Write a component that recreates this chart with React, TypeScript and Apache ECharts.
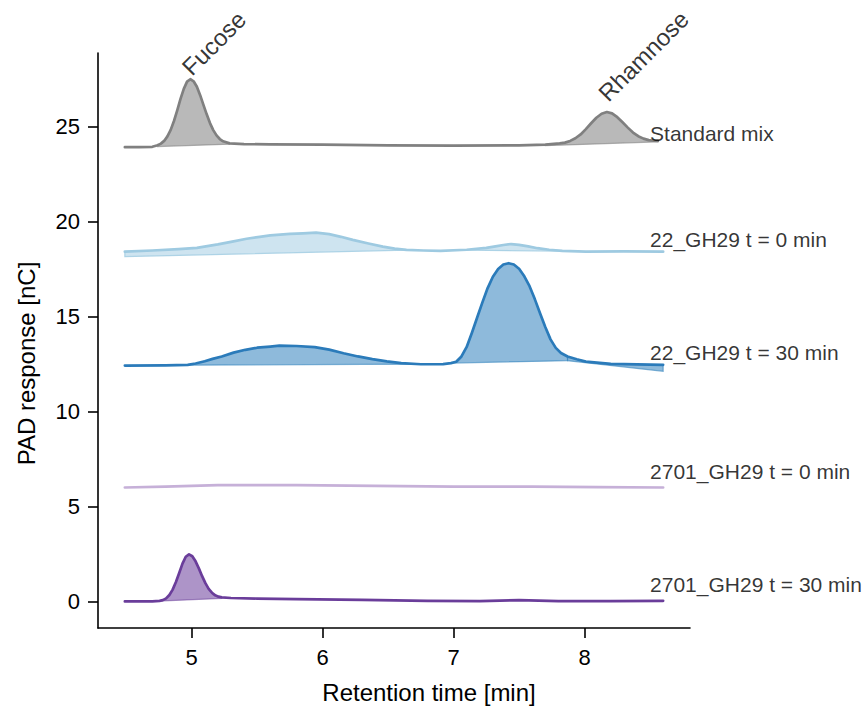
import React, { useEffect, useRef } from "react";
import * as echarts from "echarts";

// ---------- data ----------
const xTicks = [5, 6, 7, 8];
const yTicks = [0, 5, 10, 15, 20, 25];

// Standard mix
const stdX = [4.49, 4.6, 4.7, 4.74, 4.765, 4.79, 4.815, 4.84, 4.865, 4.89, 4.915, 4.94, 4.965, 4.99, 5.015, 5.04, 5.065, 5.09, 5.115, 5.14, 5.165, 5.19, 5.215, 5.24, 5.29, 5.4, 5.6, 6.0, 6.5, 7.0, 7.5, 7.7, 7.81, 7.85, 7.89, 7.93, 7.97, 8.01, 8.05, 8.09, 8.13, 8.17, 8.21, 8.25, 8.29, 8.33, 8.37, 8.41, 8.45, 8.49, 8.53, 8.56];
const stdY = [23.92, 23.92, 23.94, 24.02, 24.11, 24.25, 24.49, 24.83, 25.3, 25.86, 26.46, 26.99, 27.37, 27.5, 27.39, 27.1, 26.66, 26.15, 25.65, 25.19, 24.82, 24.54, 24.35, 24.23, 24.12, 24.08, 24.07, 24.05, 24.02, 24.0, 24.02, 24.05, 24.12, 24.16, 24.25, 24.39, 24.59, 24.87, 25.18, 25.47, 25.68, 25.77, 25.7, 25.5, 25.23, 24.95, 24.69, 24.5, 24.37, 24.29, 24.26, 24.25];
const stdFills = [
  [4.74, 23.95, 5.29, 24.08],
  [7.7, 24.0, 8.56, 24.2],
];

// 22_GH29 t = 0 min
const a0X = [4.49, 4.7, 4.9, 5.04, 5.2, 5.31, 5.42, 5.52, 5.6, 5.75, 5.85, 5.95, 6.05, 6.14, 6.23, 6.35, 6.46, 6.55, 6.64, 6.77, 6.9, 7.1, 7.25, 7.32, 7.38, 7.44, 7.5, 7.57, 7.64, 7.73, 7.83, 8.01, 8.3, 8.6];
const a0Y = [18.42, 18.48, 18.55, 18.62, 18.8, 18.95, 19.1, 19.2, 19.28, 19.35, 19.38, 19.42, 19.34, 19.2, 19.04, 18.85, 18.68, 18.58, 18.51, 18.48, 18.46, 18.52, 18.62, 18.7, 18.77, 18.82, 18.78, 18.7, 18.6, 18.52, 18.46, 18.42, 18.43, 18.42];
const a0Fills = [
  [4.49, 18.16, 6.64, 18.5],
  [7.1, 18.5, 7.83, 18.44],
];

// 22_GH29 t = 30 min
const a30X = [4.49, 4.8, 4.97, 5.03, 5.1, 5.16, 5.23, 5.32, 5.41, 5.5, 5.6, 5.67, 5.8, 5.94, 6.05, 6.16, 6.27, 6.38, 6.49, 6.6, 6.75, 6.92, 6.98, 7.02, 7.06, 7.1, 7.14, 7.18, 7.22, 7.26, 7.3, 7.34, 7.38, 7.42, 7.46, 7.5, 7.54, 7.58, 7.62, 7.66, 7.7, 7.74, 7.78, 7.82, 7.87, 7.94, 8.01, 8.2, 8.4, 8.6];
const a30Y = [12.42, 12.43, 12.46, 12.53, 12.65, 12.77, 12.9, 13.1, 13.25, 13.36, 13.42, 13.47, 13.45, 13.39, 13.26, 13.07, 12.9, 12.76, 12.64, 12.55, 12.49, 12.5, 12.55, 12.62, 12.9, 13.4, 14.15, 14.95, 15.75, 16.5, 17.1, 17.5, 17.74, 17.81, 17.74, 17.52, 17.12, 16.6, 15.92, 15.18, 14.45, 13.8, 13.35, 13.08, 12.9, 12.75, 12.63, 12.51, 12.48, 12.46];
const a30Fills = [
  [4.97, 12.44, 6.75, 12.5],
  [6.98, 12.55, 7.87, 12.68],
  [7.87, 12.68, 8.6, 12.12],
];

// 2701_GH29 t = 0 min
const b0X = [4.49, 4.8, 5.2, 5.8, 6.4, 7.0, 7.6, 8.1, 8.6];
const b0Y = [6.0, 6.05, 6.12, 6.12, 6.08, 6.05, 6.04, 6.02, 6.0];

// 2701_GH29 t = 30 min
const b30X = [4.49, 4.7, 4.755, 4.78, 4.805, 4.83, 4.855, 4.88, 4.905, 4.93, 4.955, 4.98, 5.005, 5.03, 5.055, 5.08, 5.105, 5.13, 5.155, 5.18, 5.205, 5.23, 5.3, 5.5, 5.8, 6.3, 6.8, 7.2, 7.5, 7.8, 8.2, 8.6];
const b30Y = [0.0, 0.0, 0.03, 0.07, 0.16, 0.34, 0.62, 1.02, 1.5, 1.99, 2.35, 2.48, 2.38, 2.11, 1.74, 1.33, 0.96, 0.66, 0.46, 0.32, 0.25, 0.21, 0.18, 0.15, 0.12, 0.08, 0.03, 0.02, 0.07, 0.02, 0.02, 0.03];
const b30Fills = [[4.7, 0.0, 5.23, 0.16]];

// trace labels
const labelNames = ["Standard mix", "22_GH29 t = 0 min", "22_GH29 t = 30 min", "2701_GH29 t = 0 min", "2701_GH29 t = 30 min"];
const labelX = [8.5, 8.5, 8.5, 8.5, 8.5];
const labelY = [24.66, 19.04, 13.09, 6.83, 0.88];

// peak annotations
const annNames = ["Fucose", "Rhamnose"];
const annX = [5.17, 8.45];
const annY = [29.4, 28.72];

const FONT = "'Liberation Sans', Arial, Helvetica, sans-serif";

function lineSeries(name: string, xs: number[], ys: number[], color: string) {
  return {
    name,
    type: "line",
    data: xs.map((x, i) => [x, ys[i]]),
    showSymbol: false,
    symbol: "none",
    z: 5,
    silent: true,
    lineStyle: { color, width: 2.7, cap: "round", join: "round" },
  };
}

function fillSeries(xs: number[], ys: number[], fills: number[][], fill: string, edge: string) {
  return {
    type: "custom",
    data: fills,
    z: 2,
    silent: true,
    encode: { x: [0, 2], y: [1, 3] },
    renderItem: (params: any, api: any) => {
      const [x0, b0, x1, b1] = fills[params.dataIndex];
      const pts: number[][] = [];
      for (let i = 0; i < xs.length; i++) {
        if (xs[i] >= x0 - 1e-9 && xs[i] <= x1 + 1e-9) pts.push(api.coord([xs[i], ys[i]]));
      }
      pts.push(api.coord([x1, b1]));
      pts.push(api.coord([x0, b0]));
      return {
        type: "polygon",
        shape: { points: pts },
        style: { fill, stroke: edge, lineWidth: 1.2 },
      };
    },
  };
}

export default function App() {
  const ref = useRef<HTMLDivElement>(null);
  useEffect(() => {
    document.body.style.margin = "0";
    const chart = echarts.init(ref.current!, null, { renderer: "svg" });
    const option: any = {
      animation: false,
      backgroundColor: "#ffffff",
      textStyle: { fontFamily: FONT },
      grid: { left: 98, right: 174, top: 53, bottom: 81, containLabel: false },
      xAxis: {
        type: "value",
        min: 4.285,
        max: 8.805,
        name: "Retention time [min]",
        nameLocation: "middle",
        nameGap: 52,
        nameTextStyle: { fontSize: 24, color: "#000", fontFamily: FONT, padding: [0, 0, 0, 70] },
        splitLine: { show: false },
        axisLine: { onZero: false, lineStyle: { color: "#000", width: 1.6 } },
        axisTick: { length: 10, lineStyle: { color: "#000", width: 1.6 }, customValues: xTicks },
        axisLabel: { fontSize: 22, color: "#000", margin: 18, fontFamily: FONT, customValues: xTicks },
      },
      yAxis: {
        type: "value",
        min: -1.4,
        max: 28.88,
        name: "PAD response [nC]",
        nameLocation: "middle",
        nameGap: 60,
        nameTextStyle: { fontSize: 24, color: "#000", fontFamily: FONT, padding: [0, 46, 0, 0] },
        splitLine: { show: false },
        axisLine: { onZero: false, lineStyle: { color: "#000", width: 1.6 } },
        axisTick: { length: 10, lineStyle: { color: "#000", width: 1.6 }, customValues: yTicks },
        axisLabel: { fontSize: 22, color: "#000", margin: 18, fontFamily: FONT, customValues: yTicks },
      },
      series: [
        fillSeries(stdX, stdY, stdFills, "rgba(128,128,128,0.55)", "rgba(128,128,128,0.6)"),
        fillSeries(a0X, a0Y, a0Fills, "rgba(158,202,225,0.5)", "rgba(158,202,225,0.8)"),
        fillSeries(a30X, a30Y, a30Fills, "rgba(49,130,189,0.55)", "rgba(49,130,189,0.6)"),
        fillSeries(b30X, b30Y, b30Fills, "rgba(106,61,154,0.55)", "rgba(106,61,154,0.5)"),
        lineSeries("Standard mix", stdX, stdY, "#808080"),
        lineSeries("22_GH29 t = 0 min", a0X, a0Y, "#9ecae1"),
        lineSeries("22_GH29 t = 30 min", a30X, a30Y, "#2b7bba"),
        lineSeries("2701_GH29 t = 0 min", b0X, b0Y, "#c6b0d8"),
        lineSeries("2701_GH29 t = 30 min", b30X, b30Y, "#6a3d9a"),
        {
          type: "scatter",
          silent: true,
          clip: false,
          symbolSize: 0,
          z: 10,
          data: labelNames.map((n, i) => ({ value: [labelX[i], labelY[i]], name: n })),
          label: {
            show: true,
            position: "right",
            distance: 0,
            formatter: (p: any) => p.name,
            fontSize: 21,
            color: "#000",
            fontFamily: FONT,
          },
        },
        {
          type: "scatter",
          silent: true,
          clip: false,
          symbolSize: 0,
          z: 10,
          data: annNames.map((n, i) => ({ value: [annX[i], annY[i]], name: n })),
          label: {
            show: true,
            position: "inside",
            rotate: 45,
            formatter: (p: any) => p.name,
            fontSize: 24,
            color: "#000",
            fontFamily: FONT,
          },
        },
      ],
    };
    chart.setOption(option);
    return () => chart.dispose();
  }, []);
  return <div ref={ref} style={{ position: "fixed", left: 0, top: 0, width: 864, height: 709 }} />;
}
